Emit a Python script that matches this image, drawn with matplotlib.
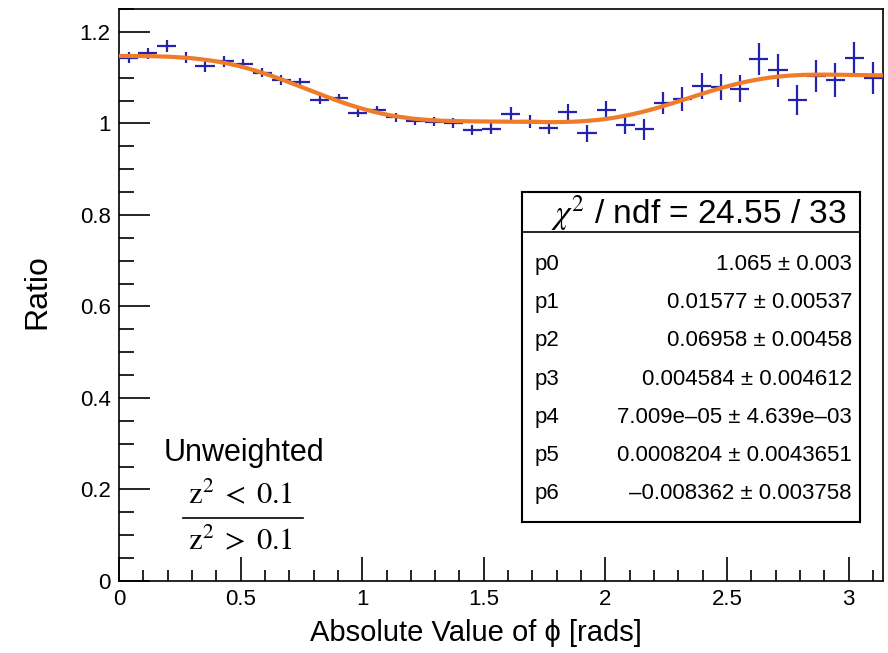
import numpy as np
import matplotlib
matplotlib.use("Agg")
import matplotlib.pyplot as plt
from matplotlib.ticker import MultipleLocator

plt.rcParams['font.family'] = ['Liberation Sans', 'DejaVu Sans']

# 40 bins over [0, pi]
nbins = 40
ratio = [1.143, 1.153, 1.170, 1.143, 1.125, 1.136, 1.129, 1.111, 1.095, 1.090,
         1.052, 1.055, 1.023, 1.029, 1.013, 1.006, 1.004, 1.001, 0.985, 0.988,
         1.020, 1.005, 0.991, 1.024, 0.978, 1.029, 0.996, 0.987, 1.045, 1.053,
         1.082, 1.080, 1.076, 1.140, 1.116, 1.051, 1.103, 1.095, 1.142, 1.100]
ratio_err = [0.012, 0.012, 0.013, 0.012, 0.013, 0.012, 0.011, 0.010, 0.010, 0.010,
             0.009, 0.009, 0.009, 0.008, 0.009, 0.009, 0.010, 0.010, 0.011, 0.012,
             0.015, 0.014, 0.015, 0.019, 0.018, 0.021, 0.020, 0.023, 0.024, 0.026,
             0.029, 0.029, 0.029, 0.035, 0.036, 0.033, 0.035, 0.037, 0.036, 0.035]

# fit parameters (cosine series p0 + sum pn cos(n x))
par_names = ['p0', 'p1', 'p2', 'p3', 'p4', 'p5', 'p6']
par_vals = [1.065, 0.01577, 0.06958, 0.004584, 7.009e-05, 0.0008204, -0.008362]
par_text = ['1.065 \u00b1 0.003', '0.01577 \u00b1 0.00537', '0.06958 \u00b1 0.00458',
            '0.004584 \u00b1 0.004612', '7.009e\u201305 \u00b1 4.639e\u201303',
            '0.0008204 \u00b1 0.0043651', '\u20130.008362 \u00b1 0.003758']
chi2_text = r'$\chi^{2}$ / ndf = 24.55 / 33'

W, H = 888, 653
fig = plt.figure(figsize=(W / 100, H / 100), dpi=100)
ax = fig.add_axes([119 / W, (H - 581) / H, (883 - 119) / W, (581 - 9) / H])

edges = np.linspace(0, np.pi, nbins + 1)
centers = 0.5 * (edges[:-1] + edges[1:])
half = 0.5 * (edges[1] - edges[0])

ax.errorbar(centers, ratio, xerr=half, yerr=ratio_err, fmt='none',
            ecolor='#2323ad', elinewidth=1.6, capsize=0, zorder=3)

xf = np.linspace(0, np.pi, 400)
yf = sum(p * np.cos(n * xf) for n, p in enumerate(par_vals))
ax.plot(xf, yf, color='#f07c2a', lw=3, zorder=4)

ax.set_xlim(0, np.pi)
ax.set_ylim(0, 1.25)
ax.xaxis.set_minor_locator(MultipleLocator(0.1))
ax.yaxis.set_minor_locator(MultipleLocator(0.05))
ax.set_xticks([0, 0.5, 1, 1.5, 2, 2.5, 3])
ax.set_xticklabels(['0', '0.5', '1', '1.5', '2', '2.5', '3'])
ax.set_yticks([0, 0.2, 0.4, 0.6, 0.8, 1.0, 1.2])
ax.set_yticklabels(['0', '0.2', '0.4', '0.6', '0.8', '1', '1.2'])
ax.tick_params(which='both', direction='in', top=False, right=False,
               labelsize=16, width=1.2, pad=6)
ax.tick_params(axis='x', which='major', length=17)
ax.tick_params(axis='x', which='minor', length=8)
ax.tick_params(axis='y', which='major', length=22)
ax.tick_params(axis='y', which='minor', length=11)
for s in ax.spines.values():
    s.set_linewidth(1.2)

fig.text(37 / W, 1 - 292 / H, 'Ratio', rotation=90, fontsize=23,
         ha='center', va='center')
fig.text(476 / W, 1 - 633 / H, 'Absolute Value of \u03d5 [rads]', fontsize=21,
         ha='center', va='center')

# label
fig.text(244 / W, 1 - 453 / H, 'Unweighted', fontsize=22, ha='center', va='center')
fig.text(240 / W, 1 - 495 / H, r'$\mathrm{z}^{2}\;<\;0.1$', fontsize=22,
         ha='center', va='center', math_fontfamily='stix')
fig.text(240 / W, 1 - 541 / H, r'$\mathrm{z}^{2}\;>\;0.1$', fontsize=22,
         ha='center', va='center', math_fontfamily='stix')
fig.add_artist(plt.Line2D([183 / W, 303 / W], [1 - 518 / H, 1 - 518 / H],
                          color='black', lw=1.2))

# stats box
bx = fig.add_axes([522 / W, (H - 522) / H, (860 - 522) / W, (522 - 192) / H])
bx.set_xlim(0, 1)
bx.set_ylim(0, 1)
bx.set_xticks([])
bx.set_yticks([])
for s in bx.spines.values():
    s.set_linewidth(1.5)
bx.axhline(0.879, color='black', lw=1.2)
bx.text(0.522, 0.906, chi2_text, fontsize=24, ha='center', va='baseline',
        math_fontfamily='stix')
row_base = [270, 308, 346, 385, 423, 461, 499]
for name, txt, yb in zip(par_names, par_text, row_base):
    yy = (522 - yb) / 330
    bx.text(0.038, yy, name, fontsize=16, ha='left', va='baseline')
    bx.text(0.976, yy, txt, fontsize=16, ha='right', va='baseline')

fig.savefig('out.png', dpi=100)
